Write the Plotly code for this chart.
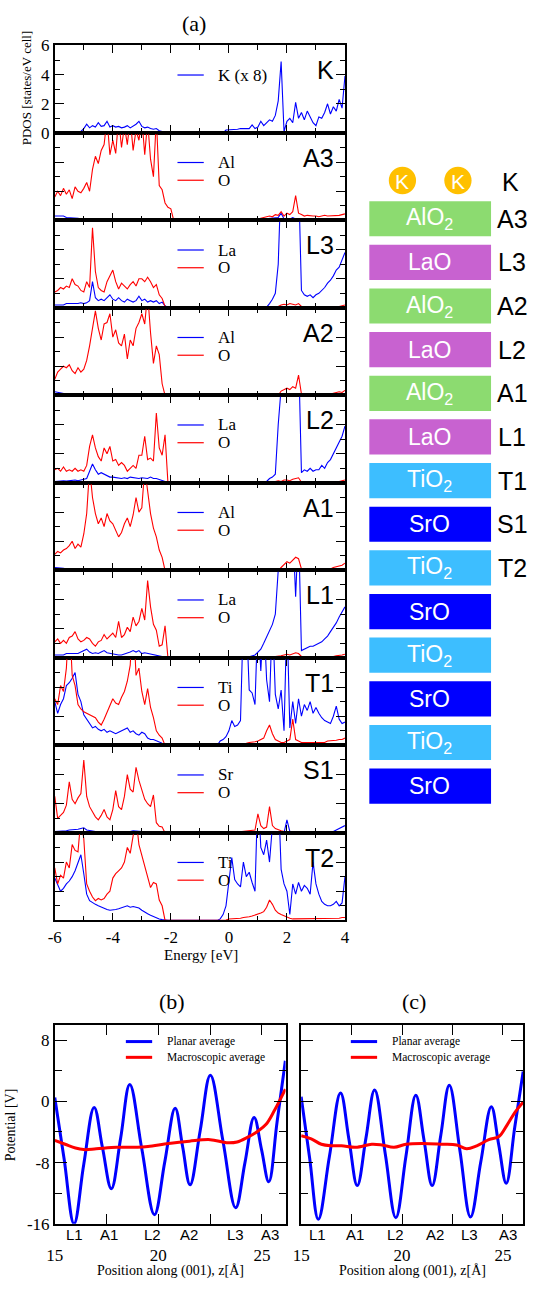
import plotly.graph_objects as go

W, H = 535, 1291

# ---------------- data: projected DOS (energy grid in eV) ----------------
ENERGY = [round(-6 + 0.1 * i, 1) for i in range(101)]

K_K = [
    0.05, 0.05, 0.06, 0.05, 0.06, 0.05, 0.08, 0.06, 0.08, 0.1,
    0.3, 0.6, 0.35, 0.5, 0.4, 0.7, 0.45, 0.5, 0.8, 0.4,
    0.5, 0.4, 0.45, 0.35, 0.4, 0.5, 0.35, 0.45, 0.6, 0.8,
    0.45, 0.35, 0.4, 0.3, 0.25, 0.3, 0.15, 0.1, 0.02, 0,
    0, 0, 0, 0, 0, 0, 0, 0, 0, 0,
    0, 0, 0, 0, 0, 0, 0, 0, 0, 0.2,
    0.2, 0.22, 0.25, 0.25, 0.3, 0.3, 0.35, 0.3, 0.55, 0.3,
    0.4, 0.8, 0.5, 0.7, 0.9, 0.8, 1.2, 2.2, 4.9, 0.1,
    0.8, 1.0, 0.7, 2.1, 1.0, 1.4, 0.9, 1.5, 1.1, 0.7,
    0.5, 1.1, 1.0, 1.4, 2.0, 1.3, 1.8, 1.5, 2.3, 1.7,
    3.9]

A3_AL = [
    0.3, 0.3, 0.25, 0.3, 0.2, 0.2, 0.15, 0.2, 0.15, 0.1,
    0.1, 0.1, 0.08, 0.08, 0.1, 0.08, 0.07, 0.1, 0.07, 0.06,
    0.06, 0.05, 0.06, 0.05, 0.05, 0.05, 0.06, 0.05, 0.05, 0.04,
    0.04, 0.04, 0.04, 0.03, 0.03, 0.03, 0.02, 0.02, 0.01, 0,
    0, 0, 0, 0, 0, 0, 0, 0, 0, 0,
    0, 0, 0, 0, 0, 0, 0, 0, 0, 0,
    0, 0, 0, 0, 0, 0, 0, 0, 0.02, 0.03,
    0.05, 0.08, 0.1, 0.1, 0.12, 0.15, 0.15, 0.2, 0.5, 0.1,
    0.15, 0.1, 0.2, 0.1, 0.1, 0.12, 0.1, 0.1, 0.08, 0.1,
    0.1, 0.1, 0.12, 0.1, 0.1, 0.1, 0.12, 0.1, 0.1, 0.1,
    0.12]

A3_O = [
    1.6, 2.0, 1.7, 2.2, 1.8, 2.1, 1.5, 2.3, 2.0, 1.9,
    2.2, 2.6, 2.0, 3.5, 4.4, 3.9, 4.8, 5.2, 7.0, 4.5,
    5.5, 4.6, 7.0, 5.0, 6.5, 5.2, 7.0, 4.8, 6.2, 5.5,
    7.0, 4.5, 6.8, 4.2, 3.0, 7.0, 2.4, 2.1, 1.2, 0.9,
    0.8, 0, 0, 0, 0, 0, 0, 0, 0, 0,
    0, 0, 0, 0, 0, 0, 0, 0, 0, 0.02,
    0.03, 0.03, 0.04, 0.05, 0.05, 0.05, 0.06, 0.06, 0.08, 0.08,
    0.1, 0.15, 0.2, 0.25, 0.3, 0.25, 0.4, 0.35, 0.6, 0.3,
    0.5, 0.4, 0.6, 1.7, 0.5, 0.4, 0.3, 0.35, 0.3, 0.3,
    0.3, 0.25, 0.3, 0.35, 0.3, 0.3, 0.35, 0.3, 0.35, 0.4,
    0.45]

L3_LA = [
    0.2, 0.2, 0.25, 0.2, 0.3, 0.3, 0.25, 0.3, 0.3, 0.35,
    0.3, 0.35, 0.5, 1.8, 0.7, 0.5, 0.6, 0.5, 0.7, 0.9,
    0.6, 0.5, 0.7, 0.5, 0.4, 0.6, 0.5, 0.4, 0.5, 0.8,
    0.5, 0.6, 0.4, 0.5, 0.4, 0.5, 0.3, 0.4, 0.15, 0.02,
    0, 0, 0, 0, 0, 0, 0, 0, 0, 0,
    0, 0, 0, 0, 0, 0, 0, 0, 0, 0,
    0, 0, 0, 0, 0, 0, 0, 0, 0, 0,
    0, 0, 0, 0.05, 0.3, 0.6, 1.0, 3.0, 9, 9,
    9, 9, 9, 9, 9, 1.2, 0.9, 0.8, 0.9, 0.7,
    0.9, 1.0, 1.2, 1.4, 1.7, 1.9, 2.2, 2.6, 2.8, 3.3,
    3.8]

L3_O = [
    1.1, 1.2, 1.4, 1.3, 1.5, 1.4, 2.0, 1.6, 1.5, 1.2,
    1.1, 1.8, 1.4, 5.5, 2.5, 1.4, 1.2, 1.1, 1.8, 2.2,
    2.6, 1.8, 1.3, 1.7, 1.5, 1.3, 1.6, 1.8, 1.5, 2.0,
    2.0, 1.8, 2.1, 1.8, 1.4, 1.6, 0.9, 0.65, 0.1, 0,
    0, 0, 0, 0, 0, 0, 0, 0, 0, 0,
    0, 0, 0, 0, 0, 0, 0, 0, 0, 0,
    0, 0, 0, 0, 0, 0, 0, 0, 0, 0,
    0, 0, 0, 0.02, 0.05, 0.05, 0.08, 0.1, 0.2, 0.25,
    0.2, 0.3, 0.25, 0.2, 0.3, 0.1, 0.05, 0.05, 0.05, 0.05,
    0.05, 0.05, 0.05, 0.05, 0.05, 0.05, 0.08, 0.1, 0.1, 0.15,
    0.2]

A2_AL = [
    0.25, 0.2, 0.15, 0.15, 0.1, 0.1, 0.1, 0.1, 0.08, 0.08,
    0.06, 0.06, 0.05, 0.06, 0.05, 0.05, 0.05, 0.05, 0.04, 0.05,
    0.04, 0.04, 0.04, 0.04, 0.04, 0.04, 0.03, 0.03, 0.03, 0.03,
    0.03, 0.03, 0.02, 0.02, 0.02, 0.02, 0.01, 0.01, 0, 0,
    0, 0, 0, 0, 0, 0, 0, 0, 0, 0,
    0, 0, 0, 0, 0, 0, 0, 0, 0, 0,
    0, 0, 0, 0, 0, 0, 0, 0, 0, 0,
    0, 0, 0, 0, 0, 0.02, 0.03, 0.05, 0.08, 0.08,
    0.1, 0.08, 0.1, 0.1, 0.12, 0.05, 0.05, 0.05, 0.05, 0.05,
    0.05, 0.05, 0.05, 0.05, 0.05, 0.05, 0.06, 0.06, 0.06, 0.06,
    0.07]

A2_O = [
    1.1, 1.6, 1.8, 2.0, 1.9, 2.1, 1.7, 1.5, 1.9, 1.6,
    1.8, 2.4, 3.4, 4.7, 5.8, 4.6, 3.8, 4.9, 5.0, 5.6,
    4.0, 4.5, 3.6, 3.4, 4.2, 2.5, 3.8, 3.4, 4.6, 5.0,
    5.6, 4.9, 7.0, 4.3, 2.2, 3.4, 2.8, 0.8, 0, 0,
    0, 0, 0, 0, 0, 0, 0, 0, 0, 0,
    0, 0, 0, 0, 0, 0, 0, 0, 0, 0,
    0, 0, 0, 0, 0, 0, 0, 0, 0, 0,
    0, 0, 0, 0, 0, 0, 0, 0, 0.3, 0.4,
    0.5, 0.4, 0.6, 0.5, 1.4, 0.1, 0.05, 0.05, 0.05, 0.05,
    0.05, 0.05, 0.05, 0.05, 0.05, 0.1, 0.15, 0.2, 0.25, 0.2,
    0.35]

L2_LA = [
    0.1, 0.12, 0.1, 0.15, 0.12, 0.15, 0.15, 0.2, 0.15, 0.2,
    0.2, 0.3, 0.8, 1.3, 0.9, 0.6, 0.7, 0.6, 0.5, 0.4,
    0.4, 0.35, 0.3, 0.3, 0.35, 0.3, 0.4, 0.35, 0.3, 0.3,
    0.35, 0.3, 0.3, 0.4, 0.3, 0.3, 0.25, 0.2, 0.1, 0,
    0, 0, 0, 0, 0, 0, 0, 0, 0, 0,
    0, 0, 0, 0, 0, 0, 0, 0, 0, 0,
    0, 0, 0, 0, 0, 0, 0, 0, 0, 0,
    0, 0, 0, 0.1, 0.3, 0.4, 0.6, 4.0, 9, 9,
    9, 9, 9, 9, 9, 0.7, 0.9, 0.8, 1.0, 0.8,
    0.9, 0.9, 1.2, 1.0, 1.4, 1.6, 2.0, 2.5, 2.8, 3.2,
    3.9]

L2_O = [
    0.9, 1.0, 0.8, 1.1, 0.8, 0.9, 0.8, 1.0, 0.8, 0.9,
    0.8, 1.2, 2.5, 3.3, 2.4, 1.8, 1.5, 2.4, 2.0, 2.5,
    1.5, 1.6, 1.2, 1.4, 1.2, 0.8, 1.0, 1.2, 1.0, 1.9,
    1.9, 3.2, 1.6, 1.7, 1.5, 4.8, 2.4, 1.9, 3.3, 0,
    0, 0, 0, 0, 0, 0, 0, 0, 0, 0,
    0, 0, 0, 0, 0, 0, 0, 0, 0, 0,
    0, 0, 0, 0, 0, 0, 0, 0, 0, 0,
    0, 0, 0, 0, 0, 0.05, 0.1, 0.15, 0.1, 0.2,
    0.2, 0.15, 0.25, 0.3, 0.35, 0.05, 0.05, 0.05, 0.05, 0.05,
    0.05, 0.05, 0.05, 0.05, 0.05, 0.05, 0.05, 0.08, 0.1, 0.15,
    0.2]

A1_AL = [
    0.2, 0.2, 0.15, 0.15, 0.1, 0.12, 0.1, 0.08, 0.1, 0.08,
    0.07, 0.06, 0.06, 0.05, 0.06, 0.05, 0.05, 0.05, 0.04, 0.04,
    0.04, 0.04, 0.04, 0.03, 0.04, 0.03, 0.03, 0.03, 0.03, 0.03,
    0.03, 0.02, 0.02, 0.02, 0.02, 0.01, 0.01, 0.01, 0, 0,
    0, 0, 0, 0, 0, 0, 0, 0, 0, 0,
    0, 0, 0, 0, 0, 0, 0, 0, 0, 0,
    0, 0, 0, 0, 0, 0, 0, 0, 0, 0,
    0, 0, 0, 0, 0, 0.02, 0.03, 0.04, 0.05, 0.06,
    0.08, 0.06, 0.08, 0.1, 0.08, 0.04, 0.04, 0.04, 0.04, 0.04,
    0.04, 0.04, 0.04, 0.05, 0.05, 0.05, 0.05, 0.05, 0.06, 0.06,
    0.06]

A1_O = [
    1.1, 1.3, 1.2, 1.4, 1.5, 1.7, 2.0, 1.5, 1.8, 1.6,
    2.5, 3.9, 7.0, 5.0, 3.9, 3.2, 3.6, 3.0, 3.9, 3.4,
    3.2, 2.8, 2.3, 2.6, 3.2, 3.6, 3.0, 3.8, 5.0, 4.0,
    4.3, 7.0, 5.4, 3.9, 2.9, 2.3, 1.4, 0.9, 0, 0,
    0, 0, 0, 0, 0, 0, 0, 0, 0, 0,
    0, 0, 0, 0, 0, 0, 0, 0, 0, 0,
    0, 0, 0, 0, 0, 0, 0, 0, 0, 0,
    0, 0, 0, 0, 0, 0, 0, 0, 0.2, 0.4,
    0.6, 0.5, 0.7, 0.9, 0.8, 0.1, 0.1, 0.05, 0.1, 0.1,
    0.1, 0.1, 0.1, 0.1, 0.15, 0.1, 0.2, 0.25, 0.3, 0.35,
    0.5]

L1_LA = [
    0.2, 0.2, 0.25, 0.2, 0.3, 0.3, 0.3, 0.35, 0.3, 0.4,
    0.5, 0.6, 0.4, 0.3, 0.35, 0.3, 0.4, 0.5, 0.35, 0.3,
    0.3, 0.25, 0.2, 0.2, 0.25, 0.3, 0.4, 0.5, 0.4, 0.5,
    0.3, 0.35, 0.3, 0.25, 0.2, 0.2, 0.15, 0.05, 0, 0,
    0, 0, 0, 0, 0, 0, 0, 0, 0, 0,
    0, 0, 0, 0, 0, 0, 0, 0, 0, 0.01,
    0.01, 0.01, 0.02, 0.02, 0.03, 0.04, 0.05, 0.08, 0.15, 0.2,
    0.4, 0.6, 1.0, 1.4, 1.8, 2.3, 3.0, 9, 9, 9,
    9, 9, 9, 4.2, 9, 0.5, 0.6, 0.7, 0.8, 0.8,
    0.9, 1.0, 1.1, 1.3, 1.5, 1.8, 2.1, 2.4, 2.8, 3.2,
    3.5]

L1_O = [
    1.1, 1.3, 1.0, 1.2, 1.0, 1.4, 1.5, 1.8, 1.3, 1.1,
    1.2, 1.4, 1.3, 1.0, 0.8, 1.1, 1.2, 1.6, 1.3, 1.5,
    1.7, 1.4, 2.5, 1.4, 1.6, 2.1, 1.8, 2.8, 2.2, 2.5,
    3.4, 2.6, 5.3, 3.5, 2.3, 1.9, 0.8, 0.9, 2.2, 0,
    0, 0, 0, 0, 0, 0, 0, 0, 0, 0,
    0, 0, 0, 0, 0, 0, 0, 0, 0, 0,
    0, 0, 0, 0, 0, 0, 0, 0, 0, 0,
    0, 0, 0.02, 0.05, 0.05, 0.05, 0.1, 0.1, 0.15, 0.2,
    0.25, 0.2, 0.3, 0.35, 0.3, 0.1, 0.05, 0.05, 0.05, 0.05,
    0.05, 0.05, 0.05, 0.05, 0.05, 0.08, 0.1, 0.15, 0.15, 0.2,
    0.25]

T1_TI = [
    3.0, 2.2, 2.8, 3.2, 4.1, 4.3, 4.6, 5.0, 3.5, 3.0,
    2.1, 1.8, 1.5, 1.2, 1.3, 1.1, 1.0, 1.1, 0.9, 1.0,
    0.9, 0.8, 0.9, 1.0, 1.1, 1.2, 0.9, 1.0, 0.8, 0.7,
    0.9, 0.8, 0.5, 0.4, 0.4, 0.3, 0.2, 0.15, 0.1, 0.05,
    0, 0, 0, 0, 0, 0, 0, 0, 0, 0,
    0, 0, 0, 0, 0, 0, 0, 0.3, 0.4, 0.6,
    1.0, 1.7, 1.3, 1.4, 1.7, 9, 9, 3.8, 3.6, 2.8,
    9, 5.1, 9, 4.5, 3.0, 9, 3.5, 2.5, 3.8, 1.0,
    9, 1.2, 3.0, 1.5, 3.2, 2.0, 2.8, 2.4, 3.0, 2.2,
    2.6, 2.2, 1.9, 1.7, 1.6, 1.5, 2.0, 2.7, 1.8, 1.5,
    1.6]

T1_O = [
    3.2, 2.8, 4.1, 3.7, 5.3, 9, 4.8, 4.1, 2.8, 2.5,
    2.3, 2.2, 2.1, 2.0, 1.9, 1.6, 1.4, 1.8, 2.3, 2.8,
    3.2, 2.9, 2.8, 3.3, 3.7, 4.4, 5.5, 9, 4.8, 5.3,
    3.7, 2.8, 3.9, 2.6, 1.9, 1.0, 0.7, 0.5, 0, 0,
    0, 0, 0, 0, 0, 0, 0, 0, 0, 0,
    0, 0, 0, 0, 0, 0, 0, 0, 0, 0,
    0.05, 0.05, 0.08, 0.1, 0.1, 0.1, 0.15, 0.2, 0.2, 0.25,
    0.3, 0.4, 0.5, 1.0, 1.4, 0.8, 0.4, 0.3, 0.2, 0.2,
    0.3, 0.4, 1.8, 0.4, 0.3, 0.2, 0.2, 0.2, 0.2, 0.2,
    0.2, 0.2, 0.25, 0.2, 0.3, 0.3, 0.3, 0.35, 0.4, 0.4,
    0.5]

S1_SR = [
    0.1, 0.1, 0.12, 0.15, 0.15, 0.2, 0.2, 0.25, 0.25, 0.3,
    0.35, 0.2, 0.15, 0.12, 0.1, 0.1, 0.1, 0.1, 0.1, 0.1,
    0.1, 0.1, 0.08, 0.1, 0.1, 0.12, 0.1, 0.15, 0.12, 0.1,
    0.1, 0.08, 0.06, 0.05, 0.05, 0.04, 0.03, 0.02, 0, 0,
    0, 0, 0, 0, 0, 0, 0, 0, 0, 0,
    0, 0, 0, 0, 0, 0, 0, 0, 0, 0,
    0, 0, 0, 0, 0, 0, 0, 0, 0, 0,
    0, 0, 0, 0, 0, 0, 0, 0, 0, 0,
    0.9, 0.1, 0.08, 0.08, 0.05, 0.05, 0.05, 0.05, 0.05, 0.05,
    0.05, 0.05, 0.05, 0.05, 0.05, 0.08, 0.1, 0.2, 0.3, 0.4,
    0.5]

S1_O = [
    2.5, 1.0, 1.2, 1.4, 1.9, 3.5, 2.3, 2.0, 2.4, 2.7,
    5.0, 2.5, 1.8, 1.4, 1.1, 0.9, 1.2, 1.6, 1.1, 0.9,
    1.6, 2.9, 1.8, 1.6, 2.5, 4.0, 3.0, 2.8, 4.5, 3.6,
    2.9, 2.3, 2.0, 1.8, 2.6, 0.7, 0.45, 0.4, 0, 0,
    0, 0, 0, 0, 0, 0, 0, 0, 0, 0,
    0, 0, 0, 0, 0, 0, 0, 0, 0, 0,
    0.02, 0.03, 0.05, 0.06, 0.08, 0.1, 0.12, 0.15, 0.2, 0.2,
    1.3, 0.5, 0.3, 0.4, 1.8, 0.5, 0.3, 0.2, 0.15, 0.1,
    0.08, 0.05, 0.05, 0.05, 0.05, 0.05, 0.05, 0.05, 0.05, 0.05,
    0.05, 0.05, 0.05, 0.05, 0.05, 0.06, 0.06, 0.08, 0.08, 0.1,
    0.1]

T2_TI = [
    2.9, 2.4, 2.0, 2.2, 2.5, 2.7, 3.0, 3.4, 3.9, 4.5,
    3.2, 1.8, 1.35, 1.2, 1.1, 1.0, 0.9, 0.8, 0.75, 0.7,
    0.7, 0.75, 0.8, 0.85, 0.9, 1.0, 0.9, 0.95, 0.9, 0.85,
    0.7, 0.55, 0.45, 0.35, 0.25, 0.2, 0.1, 0.05, 0, 0,
    0, 0, 0, 0, 0, 0, 0, 0, 0, 0,
    0, 0, 0, 0, 0, 0, 0, 0.1, 0.4, 1.0,
    2.5, 4.3, 2.8, 2.5, 2.3, 4.0, 3.0, 3.3, 2.6, 2.0,
    9, 5.0, 4.5, 5.5, 4.0, 9, 9, 9, 3.5, 2.5,
    2.0, 0.4, 2.5, 1.8, 2.6, 2.0, 2.4, 2.2, 1.8, 4.0,
    2.5, 1.8, 1.3, 1.1, 1.0, 1.0, 1.1, 1.3, 1.0, 1.2,
    3.0]

T2_O = [
    3.6, 2.5, 3.1, 2.9, 4.0, 3.6, 5.2, 4.8, 4.7, 7.0,
    5.6, 2.5, 2.0, 1.6, 1.35, 1.5, 1.4, 1.5, 1.8, 2.0,
    2.9, 3.2, 3.4, 3.6, 4.0, 5.0, 4.6, 5.6, 7.0, 5.2,
    4.5, 3.8, 3.0, 2.25, 2.6, 2.5, 1.4, 1.0, 0, 0,
    0, 0, 0, 0, 0, 0, 0, 0, 0, 0,
    0, 0, 0, 0, 0, 0, 0, 0, 0, 0.02,
    0.1, 0.1, 0.12, 0.15, 0.15, 0.2, 0.2, 0.25, 0.3, 0.35,
    0.4, 0.5, 0.6, 0.9, 1.4, 1.1, 0.7, 0.5, 0.4, 0.3,
    0.2, 0.15, 0.1, 0.1, 0.1, 0.1, 0.1, 0.1, 0.1, 0.1,
    0.1, 0.1, 0.12, 0.12, 0.12, 0.15, 0.15, 0.15, 0.15, 0.2,
    0.2]

PANEL_TAGS = ["K", "A3", "L3", "A2", "L2", "A1", "L1", "T1", "S1", "T2"]
CATION_NAMES = ["K (x 8)", "Al", "La", "Al", "La", "Al", "La", "Ti", "Sr", "Ti"]
CATION_PDOS = [K_K, A3_AL, L3_LA, A2_AL, L2_LA, A1_AL, L1_LA, T1_TI, S1_SR, T2_TI]
ANION_PDOS = [None, A3_O, L3_O, A2_O, L2_O, A1_O, L1_O, T1_O, S1_O, T2_O]
ANION_NAME = "O"

E_TICKS = [-6, -4, -2, 0, 2, 4]
E_TICK_TEXT = ["-6", "-4", "-2", "0", "2", "4"]
E_MINOR = [-5, -3, -1, 1, 3]
DOS_TICKS = [0, 2, 4, 6]
DOS_MINOR = [1, 3, 5]

# ---------------- data: layer stack schematic ----------------
STACK_TEXT = ["AlO<sub>2</sub>", "LaO", "AlO<sub>2</sub>", "LaO", "AlO<sub>2</sub>", "LaO",
              "TiO<sub>2</sub>", "SrO", "TiO<sub>2</sub>", "SrO", "TiO<sub>2</sub>", "SrO",
              "TiO<sub>2</sub>", "SrO"]
STACK_KIND = ["AlO2", "LaO", "AlO2", "LaO", "AlO2", "LaO", "TiO2", "SrO", "TiO2", "SrO",
              "TiO2", "SrO", "TiO2", "SrO"]
STACK_TAG = ["A3", "L3", "A2", "L2", "A1", "L1", "T1", "S1", "T2", "", "", "", "", ""]
ADATOMS = ["K", "K"]

# ---------------- data: electrostatic potential ----------------
B_Z = [15.0, 15.45, 15.93, 16.4, 16.9, 17.3, 17.73, 18.18, 18.62, 19.2, 19.81, 20.31, 20.81,
       21.17, 21.53, 22.02, 22.51, 23.12, 23.73, 24.18, 24.62, 24.98, 25.33, 25.73, 26.13]
B_PLANAR = [0.5, -7.5, -16.0, -8.2, -0.8, -6.0, -11.4, -4.8, 2.2, -6.2, -14.8, -7.9, -0.9,
            -5.9, -10.9, -3.8, 3.4, -5.2, -13.9, -8.0, -2.1, -6.3, -10.5, -2.7, 5.3]
B_MZ = [15.0, 15.5, 16.0, 16.4, 17.0, 18.0, 19.0, 19.5, 20.5, 21.5, 22.5, 23.3, 23.8, 24.3,
        24.8, 25.2, 25.6, 26.13]
B_MACRO = [-5.1, -5.6, -6.1, -6.3, -6.2, -6.0, -6.0, -5.9, -5.5, -5.2, -5.0, -5.4, -5.3, -4.7,
           -3.9, -3.0, -1.2, 1.6]
B_LAYER_Z = [15.94, 17.63, 19.7, 21.48, 23.74, 25.39]

C_Z = [15.0, 15.42, 15.85, 16.4, 16.95, 17.37, 17.78, 18.21, 18.64, 19.17, 19.69, 20.19, 20.68,
       21.09, 21.49, 21.92, 22.34, 22.87, 23.39, 23.9, 24.42, 24.79, 25.16, 25.58, 26.0]
C_PLANAR = [0.6, -7.4, -15.4, -7.2, 1.1, -5.0, -11.0, -4.8, 1.5, -6.9, -15.2, -7.2, 0.8,
            -5.1, -11.0, -4.4, 2.1, -6.5, -15.1, -7.9, -0.7, -5.7, -10.7, -3.4, 3.9]
C_MZ = [15.0, 15.5, 16.0, 16.5, 17.0, 17.7, 18.5, 19.0, 19.6, 20.2, 21.0, 22.0, 22.7, 23.2,
        23.7, 24.3, 24.8, 25.2, 25.6, 26.0]
C_MACRO = [-4.5, -4.9, -5.6, -5.8, -5.8, -6.0, -5.6, -5.7, -6.0, -5.6, -5.5, -5.6, -5.7, -6.2,
           -5.8, -5.0, -4.6, -3.1, -1.4, -0.1]
C_LAYER_Z = [15.83, 17.67, 19.65, 21.63, 23.32, 25.25]

LAYER_NAMES = ["L1", "A1", "L2", "A2", "L3", "A3"]
POT_TICKS = [-16, -8, 0, 8]
POT_TICK_TEXT = ["-16", "-8", "0", "8"]
POT_MINOR = [-12, -4, 4]
Z_TICKS = [15, 20, 25]
Z_MINOR = [17.5, 22.5]
POT_LEGEND = ["Planar average", "Macroscopic average"]

# ---------------- styling ----------------
BLUE = "#0000FF"
RED = "#FF0000"
SERIF = "Liberation Serif"
SANS = "Liberation Sans"
KIND_COLOR = {"AlO2": "#8CDB70", "LaO": "#C862D0", "TiO2": "#3DBEFF", "SrO": "#0000FF"}


def fx(p):
    return p / W


def fy(p):
    return 1 - p / H


def ann(text, x, y, size, family, color="black", xanchor="center", yanchor="middle", angle=0):
    return dict(text=text, x=fx(x), y=fy(y), xref="paper", yref="paper", showarrow=False,
                font=dict(size=size, family=family, color=color), xanchor=xanchor,
                yanchor=yanchor, textangle=angle)


fig = go.Figure()
layout = dict(width=W, height=H, margin=dict(l=0, r=0, t=0, b=0), showlegend=False,
              paper_bgcolor="white", plot_bgcolor="white")
annotations = []
shapes = []

# ---------------- PDOS panels ----------------
PX_L, PX_R = 47, 345
TOP0, PH = 37, 88.8
n_pan = len(PANEL_TAGS)
for k in range(n_pan):
    sfx = "" if k == 0 else str(k + 1)
    top = TOP0 + PH * k
    bot = top + PH
    last = k == n_pan - 1
    layout["xaxis" + sfx] = dict(
        domain=[fx(PX_L), fx(PX_R)], range=[-6, 4], anchor="y" + sfx,
        showline=True, linecolor="black", linewidth=1.5, mirror="ticks",
        ticks="inside", ticklen=8, tickwidth=1.2, tickcolor="black",
        tickvals=E_TICKS, ticktext=E_TICK_TEXT, showticklabels=last,
        tickfont=dict(family=SERIF, size=17, color="black"),
        minor=dict(ticks="inside", ticklen=5, tickwidth=1.2, tickcolor="black",
                   tickvals=E_MINOR, showgrid=False),
        showgrid=False, zeroline=False)
    layout["yaxis" + sfx] = dict(
        domain=[fy(bot), fy(top)], range=[0, 6], anchor="x" + sfx,
        showline=True, linecolor="black", linewidth=1.5, mirror="ticks",
        ticks="inside", ticklen=9, tickwidth=1.2, tickcolor="black",
        tickvals=DOS_TICKS, ticktext=[str(v) for v in DOS_TICKS], showticklabels=(k == 0),
        tickfont=dict(family=SERIF, size=17, color="black"),
        minor=dict(ticks="inside", ticklen=5, tickwidth=1.2, tickcolor="black",
                   tickvals=DOS_MINOR, showgrid=False),
        showgrid=False, zeroline=False)

    fig.add_trace(go.Scatter(x=ENERGY, y=CATION_PDOS[k], mode="lines",
                             line=dict(color=BLUE, width=1.1), xaxis="x" + sfx,
                             yaxis="y" + sfx, hoverinfo="skip"))
    if ANION_PDOS[k] is not None:
        fig.add_trace(go.Scatter(x=ENERGY, y=ANION_PDOS[k], mode="lines",
                                 line=dict(color=RED, width=1.1), xaxis="x" + sfx,
                                 yaxis="y" + sfx, hoverinfo="skip"))

    annotations.append(ann(PANEL_TAGS[k], 336, top + 25, 25, SANS, xanchor="right"))
    entries = [(CATION_NAMES[k], BLUE)]
    if ANION_PDOS[k] is not None:
        entries.append((ANION_NAME, RED))
    for j, (name, col) in enumerate(entries):
        yy = top + 30 + 18 * j
        shapes.append(dict(type="line", xref="paper", yref="paper", x0=fx(173), x1=fx(200),
                           y0=fy(yy), y1=fy(yy), line=dict(color=col, width=1.2)))
        annotations.append(ann(name, 213, yy, 17, SERIF, xanchor="left"))

    if k > 0:
        shapes.append(dict(type="line", xref="paper", yref="paper", x0=fx(PX_L), x1=fx(PX_R),
                           y0=fy(top), y1=fy(top), line=dict(color="black", width=2.6)))

annotations.append(ann("(a)", 190, 15, 22, SERIF))
annotations.append(ann("PDOS [states/eV cell]", 18, 80, 13, SERIF, angle=-90))
annotations.append(ann("Energy [eV]", 197, 960, 15, SERIF))

# ---------------- layer schematic ----------------
for j, sym in enumerate(ADATOMS):
    cx, cy, r = 404 + 57 * j, 174, 14
    shapes.append(dict(type="circle", xref="paper", yref="paper", x0=fx(cx - r), x1=fx(cx + r),
                       y0=fy(cy + r), y1=fy(cy - r), fillcolor="#FFC000",
                       line=dict(color="#FFC000", width=0)))
    annotations.append(ann(sym, cx, cy + 1, 21, SANS, color="white"))
annotations.append(ann("K", 515, 176, 25, SANS))

for i, (txt, kind, tag) in enumerate(zip(STACK_TEXT, STACK_KIND, STACK_TAG)):
    t = 195 + 44.3 * i
    b = t + 35.7
    shapes.append(dict(type="rect", xref="paper", yref="paper", x0=fx(370), x1=fx(495),
                       y0=fy(b), y1=fy(t), fillcolor=KIND_COLOR[kind], line=dict(width=0),
                       layer="below"))
    annotations.append(ann(txt, 432, (t + b) / 2, 23, SANS, color="white"))
    if tag:
        annotations.append(ann(tag, 517, (t + b) / 2, 25, SANS))

# ---------------- potential panels ----------------
POT = [
    dict(sfx="11", x0=47, x1=284, rng=[15, 26.14], z=B_Z, planar=B_PLANAR, mz=B_MZ,
         macro=B_MACRO, lz=B_LAYER_Z, title="(b)", labels=True),
    dict(sfx="12", x0=300, x1=528, rng=[15, 26.0], z=C_Z, planar=C_PLANAR, mz=C_MZ,
         macro=C_MACRO, lz=C_LAYER_Z, title="(c)", labels=False),
]
PT, PB = 1031, 1233
for p in POT:
    s = p["sfx"]
    layout["xaxis" + s] = dict(
        domain=[fx(p["x0"]), fx(p["x1"])], range=p["rng"], anchor="y" + s,
        showline=True, linecolor="black", linewidth=1.5, mirror="ticks",
        ticks="inside", ticklen=10, tickwidth=1.2, tickcolor="black",
        tickvals=Z_TICKS, ticktext=[str(v) for v in Z_TICKS], ticklabelstandoff=15,
        tickfont=dict(family=SERIF, size=17, color="black"),
        minor=dict(ticks="inside", ticklen=10, tickwidth=1.2, tickcolor="black",
                   tickvals=Z_MINOR, showgrid=False),
        showgrid=False, zeroline=False)
    layout["yaxis" + s] = dict(
        domain=[fy(PB), fy(PT)], range=[-16, 10], anchor="x" + s,
        showline=True, linecolor="black", linewidth=1.5, mirror="ticks",
        ticks="inside", ticklen=12, tickwidth=1.2, tickcolor="black",
        tickvals=POT_TICKS, ticktext=POT_TICK_TEXT, showticklabels=p["labels"],
        tickfont=dict(family=SERIF, size=17, color="black"),
        minor=dict(ticks="inside", ticklen=7, tickwidth=1.2, tickcolor="black",
                   tickvals=POT_MINOR, showgrid=False),
        showgrid=False, zeroline=False)
    fig.add_trace(go.Scatter(x=p["z"], y=p["planar"], mode="lines", line_shape="spline",
                             line=dict(color=BLUE, width=3, smoothing=1.1),
                             xaxis="x" + s, yaxis="y" + s, hoverinfo="skip"))
    fig.add_trace(go.Scatter(x=p["mz"], y=p["macro"], mode="lines", line_shape="spline",
                             line=dict(color=RED, width=3), xaxis="x" + s, yaxis="y" + s,
                             hoverinfo="skip"))
    for name, zz in zip(LAYER_NAMES, p["lz"]):
        annotations.append(dict(text=name, x=zz, y=fy(1244), xref="x" + s, yref="paper",
                                showarrow=False, font=dict(size=15, family=SANS, color="black"),
                                xanchor="center", yanchor="middle"))
    cx = (p["x0"] + p["x1"]) / 2
    annotations.append(ann(p["title"], cx + 2, 1007, 22, SERIF))
    annotations.append(ann("Position along (001), z[Å]", cx, 1281, 14, SERIF))
    lx = p["x0"] + 73 if p["labels"] else p["x0"] + 51
    for j, (name, col) in enumerate(zip(POT_LEGEND, [BLUE, RED])):
        yy = 1048 + 16 * j
        shapes.append(dict(type="line", xref="paper", yref="paper", x0=fx(lx), x1=fx(lx + 27),
                           y0=fy(yy), y1=fy(yy), line=dict(color=col, width=3)))
        annotations.append(ann(name, lx + 40, yy, 11.5, SERIF, xanchor="left"))

annotations.append(ann("Potential [V]", 1, 1132, 14, SERIF, angle=-90))

layout["annotations"] = annotations
layout["shapes"] = shapes
fig.update_layout(**layout)
fig.write_html(
    "out.html",
    config={"displayModeBar": False},
    post_script="document.body.style.margin='0';document.body.style.padding='0';"
                "document.documentElement.style.overflow='hidden';",
)
